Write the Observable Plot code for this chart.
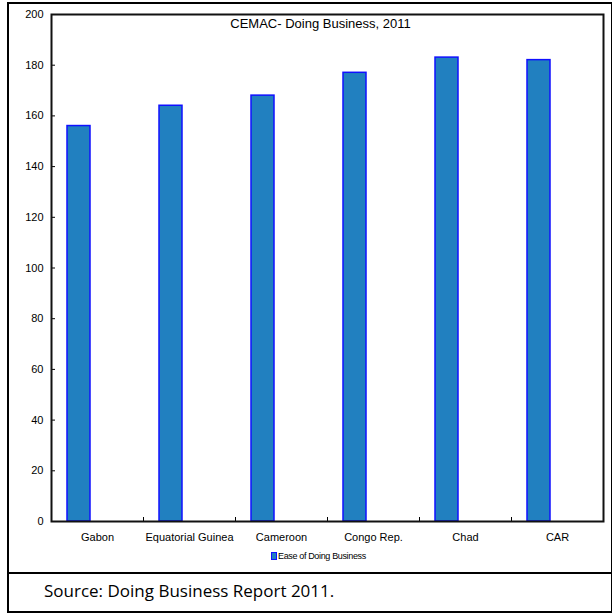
<!DOCTYPE html>
<html>
<head>
<meta charset="utf-8">
<script src="https://cdn.jsdelivr.net/npm/d3@7"></script>
<script src="https://cdn.jsdelivr.net/npm/@observablehq/plot@0.6"></script>
<style>
  html, body { margin: 0; padding: 0; background: #fff; }
  #fig { position: relative; width: 612px; height: 613px; overflow: hidden; font-family: "Liberation Sans", Arial, sans-serif; }
  #fig svg { position: absolute; left: 0; top: 0; }
  .box { position: absolute; left: 7px; top: 2px; width: 602px; height: 607px; border: 2px solid #000; box-sizing: content-box; }
  .sep { position: absolute; left: 7px; top: 572px; width: 604px; height: 2px; background: #000; }
  .legend { position: absolute; left: 271px; top: 551px; font-size: 9px; letter-spacing: -0.35px; color: #000; display: flex; align-items: center; white-space: nowrap; }
  .legend .sw { width: 4px; height: 6px; background: #2180c0; border: 1px solid #1010ff; margin-right: 1px; }
  .source { position: absolute; left: 44px; top: 579px; font-family: "Open Sans", sans-serif; font-size: 17px; color: #000; white-space: nowrap; }
</style>
</head>
<body>
<div id="fig">
  <div class="box"></div>
  <div class="sep"></div>
</div>
<script>
// CEMAC countries, Doing Business 2011 ease-of-doing-business rank
const countries = ["Gabon", "Equatorial Guinea", "Cameroon", "Congo Rep.", "Chad", "CAR"];
const ranks = [156, 164, 168, 177, 183, 182];
const yTicks = [0, 20, 40, 60, 80, 100, 120, 140, 160, 180, 200];
const chartTitle = "CEMAC- Doing Business, 2011";
const seriesName = "Ease of Doing Business";
const sourceNote = "Source: Doing Business Report 2011.";

const data = countries.map((c, i) => ({country: c, rank: ranks[i]}));

const barFill = "#2180c0";
const barStroke = "#1010ff";

const chart = Plot.plot({
  width: 612,
  height: 573,
  marginLeft: 51,
  marginRight: 9,
  marginTop: 14,
  marginBottom: 52,
  style: {fontFamily: "'Liberation Sans', Arial, sans-serif", fontSize: "11px", background: "transparent"},
  x: {type: "band", domain: countries, padding: 0, label: null},
  y: {domain: [0, 200], label: null},
  marks: [
    Plot.barY(data, {
      x: "country", y: "rank",
      fill: barFill, stroke: barStroke, strokeWidth: 1.5,
      insetLeft: 16, insetRight: 53
    }),
    // y labels, and short tick marks pointing into the plot
    Plot.axisY({ticks: yTicks, tickSize: 0, tickPadding: 8, fontSize: 11, letterSpacing: "-0.4px"}),
    Plot.axisY({ticks: yTicks, tickSize: 4, dx: 4, text: null, stroke: "#000"}),
    // category labels, with dividers between the categories
    Plot.axisX({tickSize: 0, tickPadding: 12, fontSize: 11, letterSpacing: "-0.3px"}),
    Plot.axisX({tickSize: 4, dx: 46, dy: -4, text: null, stroke: "#000"}),
    Plot.frame({stroke: "#111", strokeWidth: 2}),
    Plot.text([chartTitle], {
      frameAnchor: "top", lineAnchor: "middle", dy: 9, dx: -7,
      fontSize: 13, letterSpacing: "-0.6px", fill: "#000"
    })
  ]
});

const fig = document.getElementById("fig");
fig.insertBefore(chart, fig.firstChild);

const legend = document.createElement("div");
legend.className = "legend";
legend.innerHTML = '<span class="sw"></span><span></span>';
legend.lastChild.textContent = seriesName;
fig.appendChild(legend);

const src = document.createElement("div");
src.className = "source";
src.textContent = sourceNote;
fig.appendChild(src);
</script>
</body>
</html>
